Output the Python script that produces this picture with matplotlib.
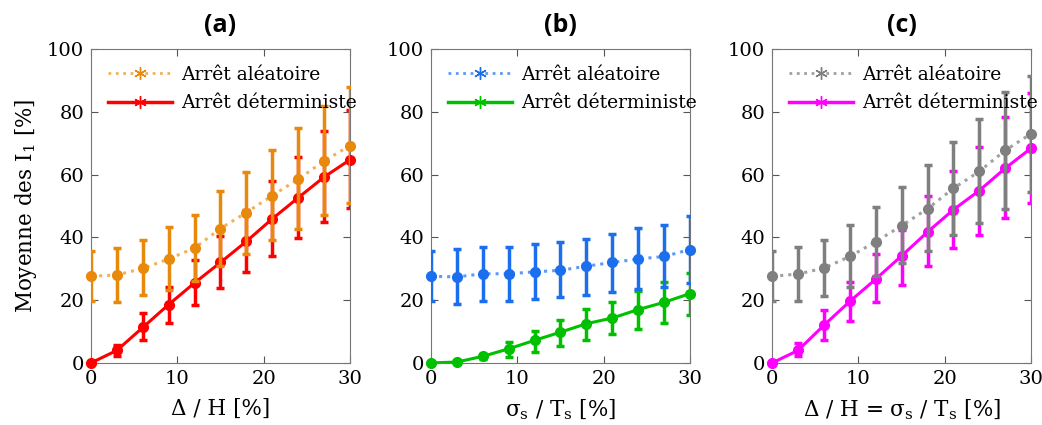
import numpy as np
import matplotlib
matplotlib.use("Agg")
import matplotlib.pyplot as plt

# abscissa (%)
x = [0, 3, 6, 9, 12, 15, 18, 21, 24, 27, 30]

# panel (a) : Delta / H
a_alea = [27.6, 28.0, 30.1, 33.1, 36.6, 42.8, 47.9, 53.3, 58.5, 64.3, 69.2]
a_alea_hi = [35.5, 36.7, 39.2, 43.2, 47.2, 54.9, 60.9, 67.9, 74.7, 81.7, 88.0]
a_alea_lo = [19.6, 19.4, 21.6, 23.3, 26.0, 30.8, 34.7, 39.0, 42.6, 47.2, 50.9]
a_det = [0.0, 4.0, 11.3, 18.6, 25.5, 32.0, 38.7, 45.9, 52.6, 59.2, 64.7]
a_det_hi = [0.0, 5.8, 15.9, 24.2, 32.9, 40.5, 48.8, 57.8, 65.7, 73.9, 80.6]
a_det_lo = [0.0, 2.1, 7.4, 12.7, 18.6, 23.8, 28.8, 33.9, 39.7, 44.8, 49.3]

# panel (b) : sigma_s / T_s
b_alea = [27.6, 27.4, 28.4, 28.4, 29.0, 29.5, 30.8, 32.0, 33.1, 33.9, 36.1]
b_alea_hi = [35.8, 36.3, 36.8, 36.8, 37.9, 38.4, 39.6, 41.1, 42.9, 43.9, 46.7]
b_alea_lo = [19.6, 18.9, 19.8, 19.8, 20.4, 20.9, 21.7, 22.6, 23.5, 24.2, 25.5]
b_det = [0.0, 0.3, 2.1, 4.5, 7.2, 9.8, 12.5, 14.3, 17.0, 19.3, 22.1]
b_det_hi = [0.0, 0.6, 3.0, 6.7, 10.3, 13.8, 17.3, 19.3, 22.8, 25.8, 28.6]
b_det_lo = [0.0, 0.1, 1.3, 1.9, 3.5, 5.3, 7.4, 9.2, 10.9, 12.7, 15.4]

# panel (c) : Delta / H = sigma_s / T_s
c_alea = [27.6, 28.3, 30.2, 33.9, 38.6, 43.7, 49.1, 55.6, 61.0, 67.7, 73.0]
c_alea_hi = [35.8, 36.8, 39.2, 43.9, 49.6, 55.9, 62.9, 70.5, 77.7, 86.3, 91.4]
c_alea_lo = [19.6, 19.8, 21.4, 24.2, 27.6, 31.8, 35.8, 40.8, 44.5, 49.1, 54.4]
c_det = [0.0, 4.0, 12.0, 19.6, 26.7, 34.1, 41.7, 48.8, 54.9, 62.0, 68.4]
c_det_hi = [0.0, 6.2, 17.0, 25.7, 34.7, 42.4, 53.0, 61.0, 68.9, 78.3, 85.9]
c_det_lo = [0.0, 2.1, 7.4, 13.5, 19.4, 24.8, 30.8, 36.6, 40.7, 46.1, 50.9]

titles = ["(a)", "(b)", "(c)"]
xlabels = [r"Δ / H [%]",
           r"σ$_\mathregular{s}$ / T$_\mathregular{s}$ [%]",
           r"Δ / H = σ$_\mathregular{s}$ / T$_\mathregular{s}$ [%]"]

panels = [
    (a_alea, a_alea_lo, a_alea_hi, a_det, a_det_lo, a_det_hi, "#E8890C", "#F2B15A", "#FF0000"),
    (b_alea, b_alea_lo, b_alea_hi, b_det, b_det_lo, b_det_hi, "#1B6FEE", "#5C9BF5", "#00C000"),
    (c_alea, c_alea_lo, c_alea_hi, c_det, c_det_lo, c_det_hi, "#7F7F7F", "#A0A0A0", "#FF00FF"),
]

plt.rcParams["font.family"] = ["DejaVu Serif"]
plt.rcParams["mathtext.fontset"] = "dejavuserif"

asterisk = (6, 2, 0)

fig = plt.figure(figsize=(10.42, 4.25), dpi=100)
lefts = [0.0873, 0.4136, 0.741]

for i, (al, al_lo, al_hi, de, de_lo, de_hi, c_err, c_line, c_det) in enumerate(panels):
    ax = fig.add_axes([lefts[i], 0.146, 0.2486, 0.739])
    al = np.array(al); de = np.array(de)
    al_err = [al - np.array(al_lo), np.array(al_hi) - al]
    de_err = [de - np.array(de_lo), np.array(de_hi) - de]

    # deterministic stop
    ax.errorbar(x, de, yerr=de_err, fmt="none", ecolor=c_det, elinewidth=2.5,
                capsize=3, capthick=2.5, zorder=2)
    ax.plot(x, de, "-", color=c_det, lw=2.2, zorder=2)
    ax.plot(x, de, "o", color=c_det, ms=7, zorder=3, clip_on=False)

    # random stop
    ax.plot(x, al, ":", color=c_line, lw=2.2, zorder=4)
    ax.errorbar(x, al, yerr=al_err, fmt="none", ecolor=c_err, elinewidth=2.5,
                capsize=3, capthick=2.5, zorder=5)
    ax.plot(x, al, "o", color=c_err, ms=7, zorder=6, clip_on=False)

    # legend handles
    ax.plot([], [], ":", color=c_line, lw=2, marker=asterisk, ms=9, mew=1.0,
            mec=c_err, label="Arrêt aléatoire")
    ax.plot([], [], "-", color=c_det, lw=2.5, marker=asterisk, ms=9, mew=1.0,
            mec=c_det, label="Arrêt déterministe")
    ax.legend(loc="upper left", frameon=False, fontsize=13.5, handlelength=3.4,
              handletextpad=0.5, borderaxespad=0.3, borderpad=0.6,
              labelspacing=0.55)

    ax.set_xlim(0, 30)
    ax.set_ylim(0, 100)
    ax.set_xticks([0, 10, 20, 30])
    ax.set_yticks([0, 20, 40, 60, 80, 100])
    ax.tick_params(direction="in", top=True, right=True, labelsize=14,
                   length=5, color="#555555", pad=5)
    for sp in ax.spines.values():
        sp.set_color("#777777")
    ax.set_xlabel(xlabels[i], fontsize=15.5, labelpad=7)
    ax.set_title(titles[i], fontsize=18, fontweight="bold",
                 family=["Open Sans", "DejaVu Sans"], pad=12)
    if i == 0:
        ax.set_ylabel(r"Moyenne des I$_\mathregular{1}$ [%]", fontsize=15.5,
                      labelpad=6)

fig.savefig("out.png", dpi=100)
